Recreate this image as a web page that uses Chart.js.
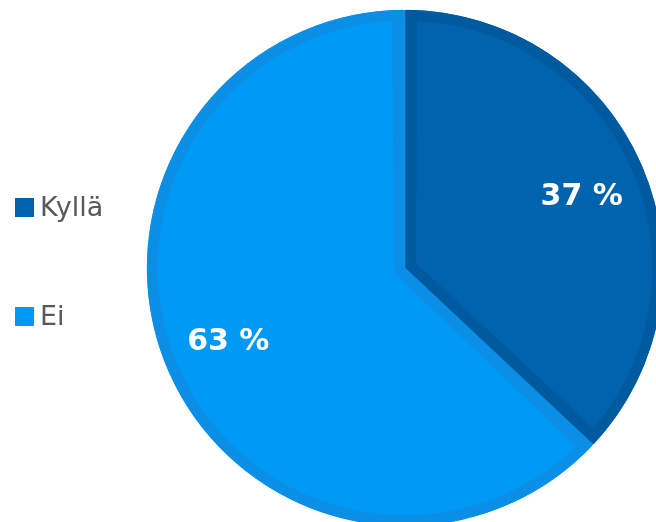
<!DOCTYPE html>
<html>
<head>
<meta charset="utf-8">
<script src="https://cdn.jsdelivr.net/npm/chart.js@4/dist/chart.umd.min.js"></script>
<style>
  html, body { margin: 0; padding: 0; background: #fff; }
  #wrap { width: 656px; height: 522px; }
</style>
</head>
<body>
<div id="wrap"><canvas id="pieChart" width="656" height="522"></canvas></div>
<script>
  // Data
  const categories = ["Kyllä", "Ei"];
  const shares = [37, 63];
  const sliceColors = ["#0063ad", "#0099f5"];
  const bandColors = ["#005a9f", "#0b8fe6"];

  // Percent labels inside the slices
  const sliceLabels = {
    id: "sliceLabels",
    afterDatasetsDraw(chart) {
      const ctx = chart.ctx;
      const meta = chart.getDatasetMeta(0);
      ctx.save();
      ctx.font = "bold 30px 'DejaVu Sans', Verdana, sans-serif";
      ctx.fillStyle = "#ffffff";
      ctx.textAlign = "center";
      ctx.textBaseline = "middle";
      meta.data.forEach(function (arc, i) {
        const p = arc.getProps(["x", "y", "startAngle", "endAngle", "outerRadius"], true);
        const mid = (p.startAngle + p.endAngle) / 2 + 0.02;
        const r = p.outerRadius * 0.74;
        ctx.fillText(shares[i] + " %", p.x + Math.cos(mid) * r, p.y + Math.sin(mid) * r + 2);
      });
      ctx.restore();
    }
  };

  // Legend on the left side
  const sideLegend = {
    id: "sideLegend",
    afterDraw(chart) {
      const ctx = chart.ctx;
      const rows = [208, 317];
      ctx.save();
      ctx.font = "27px 'DejaVu Sans', Verdana, sans-serif";
      ctx.textBaseline = "middle";
      ctx.textAlign = "left";
      chart.data.labels.forEach(function (label, i) {
        ctx.fillStyle = sliceColors[i];
        ctx.fillRect(15, rows[i] - 10, 19, 19);
        ctx.fillStyle = "#595959";
        ctx.fillText(label, 40, rows[i] + 1);
      });
      ctx.restore();
    }
  };

  new Chart(document.getElementById("pieChart"), {
    type: "pie",
    data: {
      labels: categories,
      datasets: [
        {
          data: shares,
          backgroundColor: sliceColors,
          borderColor: bandColors,
          borderWidth: 11,
          borderAlign: "inner",
          spacing: 1,
          clip: false,
        },
      ],
    },
    options: {
      responsive: false,
      animation: false,
      radius: 258,
      layout: { padding: { left: 154, right: 0, top: 14, bottom: 0 } },
      plugins: {
        legend: { display: false },
        tooltip: { enabled: false },
      },
    },
    plugins: [sliceLabels, sideLegend],
  });
</script>
</body>
</html>
